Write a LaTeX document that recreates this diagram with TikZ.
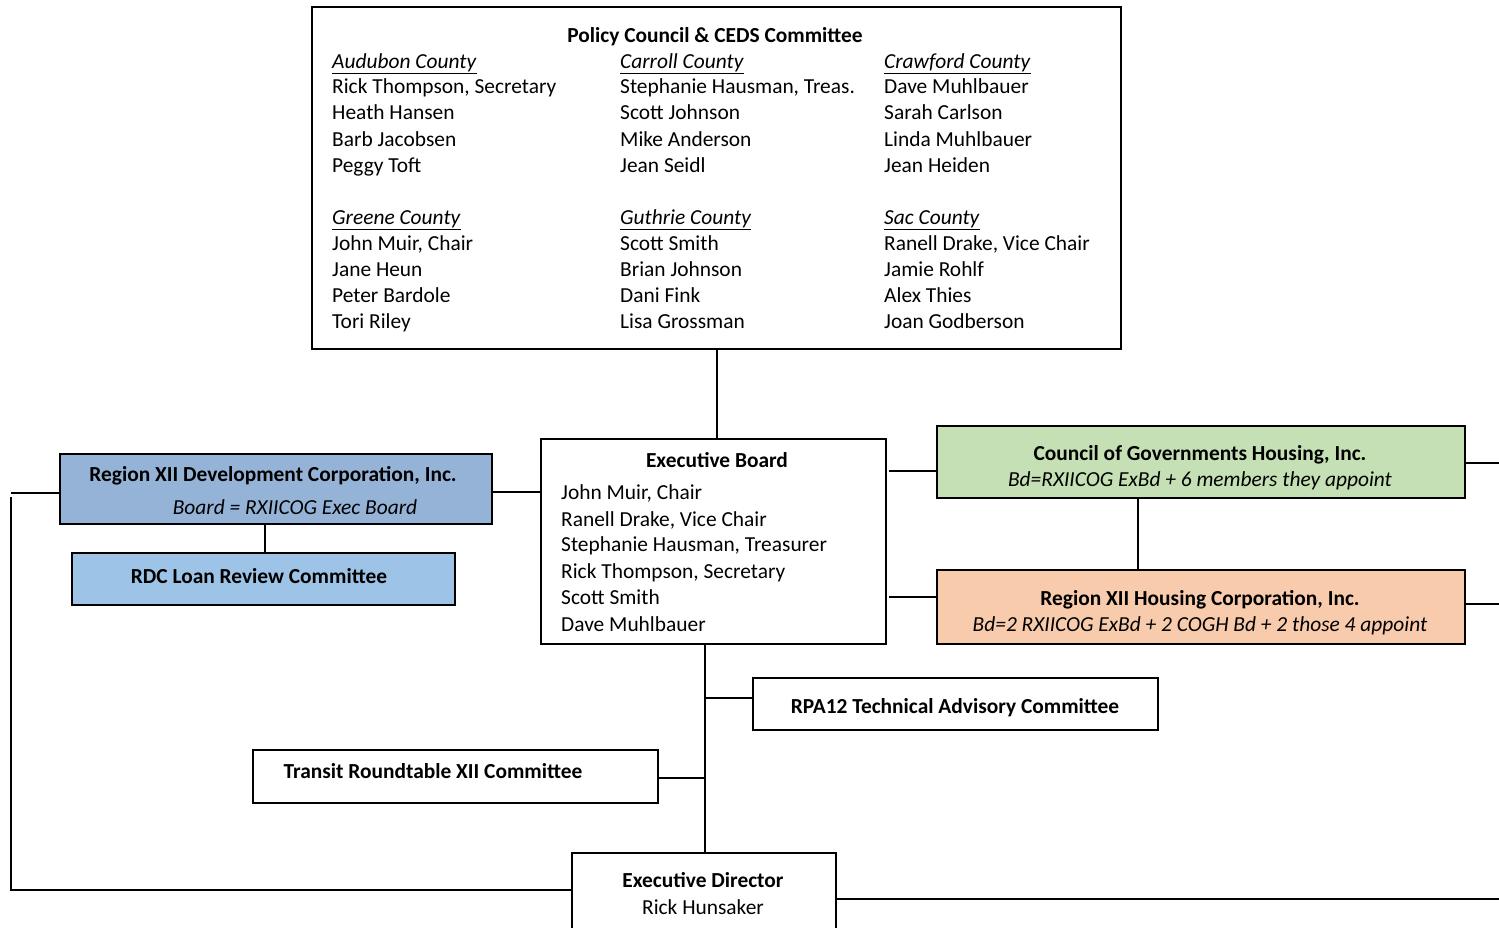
\documentclass[tikz,border=0pt]{standalone}
\usepackage{fontspec}
\setmainfont{Carlito}
\usetikzlibrary{calc}
\definecolor{devblue}{HTML}{95B3D7}
\definecolor{rdcblue}{HTML}{9DC3E6}
\definecolor{coggreen}{HTML}{C5E0B4}
\definecolor{rhcorange}{HTML}{F8CBAD}
\tikzset{
  box/.style={draw=black, line width=1.6pt, inner sep=0pt, anchor=north west},
  txt/.style={inner sep=0pt, anchor=base west, font=\fontsize{21.4}{26}\selectfont},
  ctxt/.style={inner sep=0pt, anchor=base, font=\fontsize{21.4}{26}\selectfont},
  conn/.style={draw=black, line width=1.3pt},
}
\newcommand{\cty}[1]{\underline{\textit{#1}}}
\begin{document}
\begin{tikzpicture}[x=1pt,y=-1pt]
\useasboundingbox[fill=white] (0,0) rectangle (1499,927);
% boxes
\node[box, minimum width=809pt, minimum height=342pt] (policy) at (311,6) {};
\node[box, minimum width=345pt, minimum height=205pt] (eb) at (540,438) {};
\node[box, fill=devblue, minimum width=432pt, minimum height=70pt] (dev) at (59,453) {};
\node[box, fill=rdcblue, minimum width=383pt, minimum height=52pt] (rdc) at (71,552) {};
\node[box, fill=coggreen, minimum width=528pt, minimum height=72pt] (cog) at (936,425) {};
\node[box, fill=rhcorange, minimum width=528pt, minimum height=74pt] (rhc) at (936,569) {};
\node[box, minimum width=405pt, minimum height=52pt] (rpa) at (752,677) {};
\node[box, minimum width=405pt, minimum height=53pt] (transit) at (252,749) {};
\node[box, minimum width=264pt, minimum height=110pt] (ed) at (571,852) {};

% policy text
\node[ctxt] (ptitle) at (715,42) {\textbf{Policy Council \& CEDS Committee}};
\node[txt] (a0) at (332,68) {\cty{Audubon County}};
\node[txt] (a1) at (332,93) {Rick Thompson, Secretary};
\node[txt] (a2) at (332,119) {Heath Hansen};
\node[txt] (a3) at (332,146) {Barb Jacobsen};
\node[txt] (a4) at (332,172) {Peggy Toft};
\node[txt] (b0) at (620,68) {\cty{Carroll County}};
\node[txt] (b1) at (620,93) {Stephanie Hausman, Treas.};
\node[txt] (b2) at (620,119) {Scott Johnson};
\node[txt] (b3) at (620,146) {Mike Anderson};
\node[txt] (b4) at (620,172) {Jean Seidl};
\node[txt] (c0) at (884,68) {\cty{Crawford County}};
\node[txt] (c1) at (884,93) {Dave Muhlbauer};
\node[txt] (c2) at (884,119) {Sarah Carlson};
\node[txt] (c3) at (884,146) {Linda Muhlbauer};
\node[txt] (c4) at (884,172) {Jean Heiden};
\node[txt] (d0) at (332,224) {\cty{Greene County}};
\node[txt] (d1) at (332,250) {John Muir, Chair};
\node[txt] (d2) at (332,276) {Jane Heun};
\node[txt] (d3) at (332,302) {Peter Bardole};
\node[txt] (d4) at (332,328) {Tori Riley};
\node[txt] (e0) at (620,224) {\cty{Guthrie County}};
\node[txt] (e1) at (620,250) {Scott Smith};
\node[txt] (e2) at (620,276) {Brian Johnson};
\node[txt] (e3) at (620,302) {Dani Fink};
\node[txt] (e4) at (620,328) {Lisa Grossman};
\node[txt] (f0) at (884,224) {\cty{Sac County}};
\node[txt] (f1) at (884,250) {Ranell Drake, Vice Chair};
\node[txt] (f2) at (884,276) {Jamie Rohlf};
\node[txt] (f3) at (884,302) {Alex Thies};
\node[txt] (f4) at (884,328) {Joan Godberson};

% exec board text
\node[ctxt] (ebt) at (717,467) {\textbf{Executive Board}};
\node[txt] (eb1) at (561,499) {John Muir, Chair};
\node[txt] (eb2) at (561,526) {Ranell Drake, Vice Chair};
\node[txt] (eb3) at (561,551) {Stephanie Hausman, Treasurer};
\node[txt] (eb4) at (561,578) {Rick Thompson, Secretary};
\node[txt] (eb5) at (561,604) {Scott Smith};
\node[txt] (eb6) at (561,631) {Dave Muhlbauer};

% other texts
\node[ctxt] (devt) at (273,481) {\textbf{Region XII Development Corporation, Inc.}};
\node[ctxt] (devs) at (295,514) {\textit{Board = RXIICOG Exec Board}};
\node[ctxt] (rdct) at (259,583) {\textbf{RDC Loan Review Committee}};
\node[ctxt] (cogt) at (1200,460) {\textbf{Council of Governments Housing, Inc.}};
\node[ctxt] (cogs) at (1200,486) {\textit{Bd=RXIICOG ExBd + 6 members they appoint}};
\node[ctxt] (rhct) at (1200,605) {\textbf{Region XII Housing Corporation, Inc.}};
\node[ctxt] (rhcs) at (1200,631) {\textit{Bd=2 RXIICOG ExBd + 2 COGH Bd + 2 those 4 appoint}};
\node[ctxt] (rpat) at (955,713) {\textbf{RPA12 Technical Advisory Committee}};
\node[ctxt] (trt) at (433,778) {\textbf{Transit Roundtable XII Committee}};
\node[ctxt] (edt) at (703,887) {\textbf{Executive Director}};
\node[ctxt] (edn) at (703,914) {Rick Hunsaker};

% coordinates
\coordinate (L1) at (11,493);
\coordinate (L2) at (11,497);
\coordinate (L3) at (11,890);
\coordinate (R1) at (1499,463);
\coordinate (R2) at (1499,604);
\coordinate (R3) at (1499,899);
\coordinate (G1) at (889,471);
\coordinate (G2) at (889,597);
\coordinate (V) at (705,0);
\coordinate (H1) at (0,492);
\coordinate (H2) at (0,698);
\coordinate (H3) at (0,778);
\coordinate (X1) at (717,0);
\coordinate (X2) at (265,0);
\coordinate (X3) at (1138,0);

% connectors
\draw[conn] (policy.south -| X1) -- (eb.north -| X1);
\draw[conn] (dev.east |- H1) -- (eb.west |- H1);
\draw[conn] (dev.south -| X2) -- (rdc.north -| X2);
\draw[conn] (G1) -- (cog.west |- G1);
\draw[conn] (G2) -- (rhc.west |- G2);
\draw[conn] (cog.south -| X3) -- (rhc.north -| X3);
\draw[conn] (cog.east |- R1) -- (R1);
\draw[conn] (rhc.east |- R2) -- (R2);
\draw[conn] (eb.south -| V) -- (ed.north -| V);
\draw[conn] (V |- H2) -- (rpa.west |- H2);
\draw[conn] (transit.east |- H3) -- (V |- H3);
\draw[conn] (dev.west |- L1) -- (L1);
\draw[conn] (L2) -- (L3) -- (ed.west |- L3);
\draw[conn] (ed.east |- R3) -- (R3);
\end{tikzpicture}
\end{document}
